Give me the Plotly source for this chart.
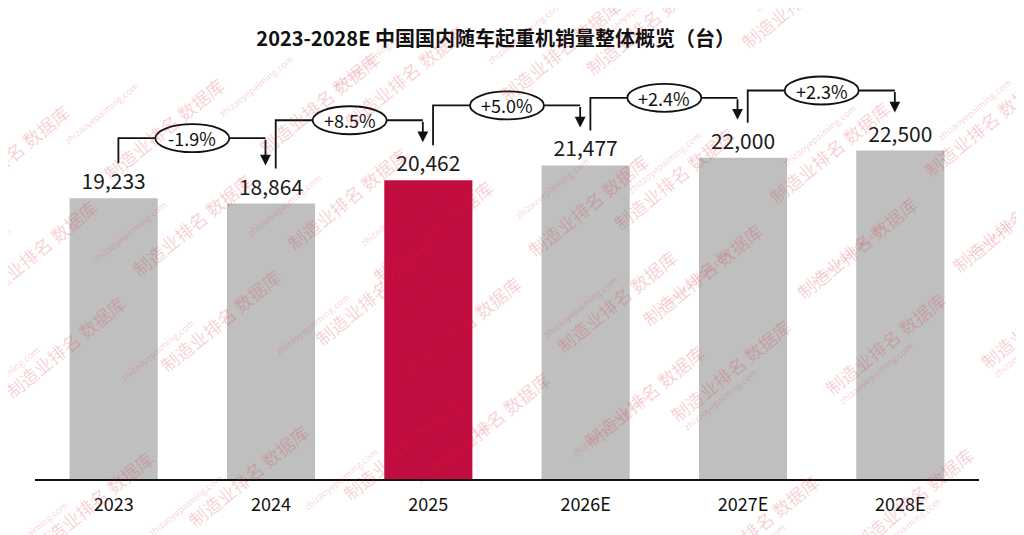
import plotly.graph_objects as go

# chart data
years = ["2023", "2024", "2025", "2026E", "2027E", "2028E"]
sales = [19233, 18864, 20462, 21477, 22000, 22500]
highlight_year = "2025"
title_text = "2023-2028E 中国国内随车起重机销量整体概览（台）"
watermark_text = "制造业排名 数据库"
watermark_url = "zhizaoyepaiming.com"

FONT = "Noto Sans CJK SC, Noto Sans, sans-serif"
W, H = 1024, 535
OFF = 8  # page body margin
L, R, T, B = 27, 53, 33, 64
Y_MAX = 30000
PX = Y_MAX / (H - T - B)  # data units per pixel

x_idx = list(range(len(years)))
colors = ["#C00C3E" if y == highlight_year else "#BFBFBF" for y in years]

fig = go.Figure()
fig.add_trace(go.Bar(
    x=x_idx,
    y=sales,
    width=0.56,
    marker=dict(color=colors, line=dict(width=0)),
    text=[f"{v:,}" for v in sales],
    textposition="outside",
    textfont=dict(family=FONT, size=21, color="#1a1a1a"),
    cliponaxis=False,
    hoverinfo="skip",
))

shapes = []
annotations = []

# growth brackets between consecutive bars
for i in range(len(sales) - 1):
    v0, v1 = sales[i], sales[i + 1]
    pct = (v1 / v0 - 1) * 100
    label = f"{pct:+.1f}%"
    xl = i + 0.03
    xr = i + 1 - 0.035
    y_start = v0 + 35 * PX
    y_top = max(v0, v1) + 60 * PX
    y_tip = v1 + 38 * PX
    shapes.append(dict(
        type="path", xref="x", yref="y",
        path=f"M {xl},{y_start} L {xl},{y_top} L {xr},{y_top}",
        line=dict(color="#111111", width=1.8),
    ))
    annotations.append(dict(
        x=xr, y=y_tip, ax=xr, ay=y_top, xref="x", yref="y",
        axref="x", ayref="y", text="", showarrow=True,
        arrowhead=2, arrowsize=1.2, arrowwidth=1.8, arrowcolor="#111111",
        standoff=0,
    ))
    shapes.append(dict(
        type="circle", xref="x", yref="y",
        xsizemode="pixel", ysizemode="pixel",
        xanchor=i + 0.5, yanchor=y_top,
        x0=-37, x1=37, y0=-14, y1=14,
        fillcolor="white", line=dict(color="#111111", width=1.8),
    ))
    annotations.append(dict(
        x=i + 0.5, y=y_top, xref="x", yref="y", text=label,
        showarrow=False, font=dict(family=FONT, size=18, color="#111111"),
    ))


# watermark lattice (screen pixels -> paper coordinates)
def to_paper(px, py):
    px, py = px - OFF, py - OFF
    return (px - L) / (W - L - R), (H - B - py) / (H - T - B)


for i in range(-2, 9):
    for j in range(-2, 5):
        cx = 95 + 155 * i + 28 * j
        cy = 70 - 26.5 * i + 155 * j
        if -90 < cx < W + 90 and -70 < cy < H + 70:
            px_, py_ = to_paper(cx, cy)
            annotations.append(dict(
                x=px_, y=py_, xref="paper", yref="paper", text=watermark_text,
                showarrow=False, textangle=-39,
                font=dict(family=FONT, size=18, color="rgba(215,40,55,0.22)"),
            ))
            sx, sy = to_paper(cx - 36, cy + 7)
            annotations.append(dict(
                x=sx, y=sy, xref="paper", yref="paper", text=watermark_url,
                showarrow=False, textangle=-39,
                font=dict(family=FONT, size=9, color="rgba(215,40,55,0.22)"),
            ))

fig.update_layout(
    title=dict(
        text=f"<b>{title_text}</b>",
        font=dict(family=FONT, size=20, color="#111111"),
        x=0.488, xref="paper", xanchor="center",
        y=1 - (39 - OFF) / H, yref="container", yanchor="middle",
    ),
    xaxis=dict(
        tickmode="array", tickvals=x_idx, ticktext=years,
        range=[-0.5, len(years) - 0.5],
        showgrid=False, zeroline=False,
        showline=True, linecolor="#111111", linewidth=2,
        tickfont=dict(family=FONT, size=18, color="#111111"),
        ticklabelstandoff=8,
    ),
    yaxis=dict(range=[0, Y_MAX], visible=False),
    shapes=shapes,
    annotations=annotations,
    showlegend=False,
    plot_bgcolor="white",
    paper_bgcolor="white",
    width=W, height=H,
    margin=dict(l=L, r=R, t=T, b=B),
)

fig.write_html("out.html")
